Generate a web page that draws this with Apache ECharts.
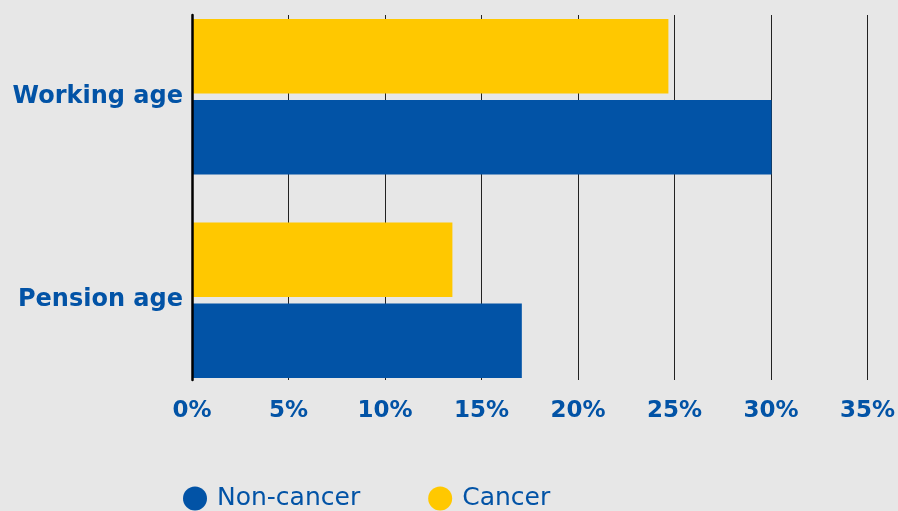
<!DOCTYPE html>
<html>
<head>
<meta charset="utf-8">
<script src="https://cdn.jsdelivr.net/npm/echarts@6/dist/echarts.min.js"></script>
<style>
html,body{margin:0;padding:0;background:#e7e7e7;overflow:hidden;}
#c{position:absolute;left:0;top:-5px;width:898px;height:516px;}
</style>
</head>
<body>
<div id="c"></div>
<script>
const categories = ['Working age', 'Pension age'];
const nonCancer = [30.0, 17.05];
const cancer = [24.65, 13.45];
const tickMax = 35;
const tickStep = 5;

const BLUE = '#0253a6';
const YELLOW = '#ffc800';
const FONT = 'DejaVu Sans';

const chart = echarts.init(document.getElementById('c'));
chart.setOption({
  backgroundColor: '#e7e7e7',
  animation: false,
  legend: {
    left: 178, top: 486,
    itemWidth: 24, itemHeight: 24, itemGap: 68,
    icon: 'circle',
    data: ['Non-cancer', 'Cancer'],
    textStyle: { fontFamily: FONT, fontSize: 25, color: BLUE, padding: [0,0,0,5] }
  },
  grid: [
    { left: 192, right: 30, top: 20, bottom: 131 },
    { left: 193, right: 30, top: 0, bottom: 109 }
  ],
  xAxis: [
    {
      gridIndex: 0, type: 'value', min: 0, max: tickMax, interval: tickStep,
      axisLine: { show: false }, axisTick: { show: false },
      splitLine: { show: true, lineStyle: { color: '#222', width: 1 } },
      axisLabel: { margin: 20, formatter: '{value}%', fontFamily: FONT, fontWeight: 'bold', fontSize: 23, color: BLUE }
    },
    {
      gridIndex: 1, type: 'value', min: 0, max: tickMax, interval: tickStep,
      show: false
    }
  ],
  yAxis: [
    {
      gridIndex: 0, type: 'category', data: categories, inverse: true, z: 5,
      axisLine: { show: true, lineStyle: { color: '#000', width: 2.5 } },
      axisTick: { show: false }, axisLabel: { show: false }, splitLine: { show: false }
    },
    {
      gridIndex: 1, type: 'category', data: categories, inverse: true,
      axisLine: { show: false }, axisTick: { show: false }, splitLine: { show: false },
      axisLabel: { margin: 10, fontFamily: FONT, fontWeight: 'bold', fontSize: 24, color: BLUE }
    }
  ],
  series: [
    {
      name: 'Cancer', type: 'bar', xAxisIndex: 1, yAxisIndex: 1,
      data: cancer, barWidth: 74.5, barGap: '8.5%',
      itemStyle: { color: YELLOW }
    },
    {
      name: 'Non-cancer', type: 'bar', xAxisIndex: 1, yAxisIndex: 1,
      data: nonCancer, barWidth: 74.5, barGap: '8.5%',
      itemStyle: { color: BLUE }
    }
  ]
});
</script>
</body>
</html>
